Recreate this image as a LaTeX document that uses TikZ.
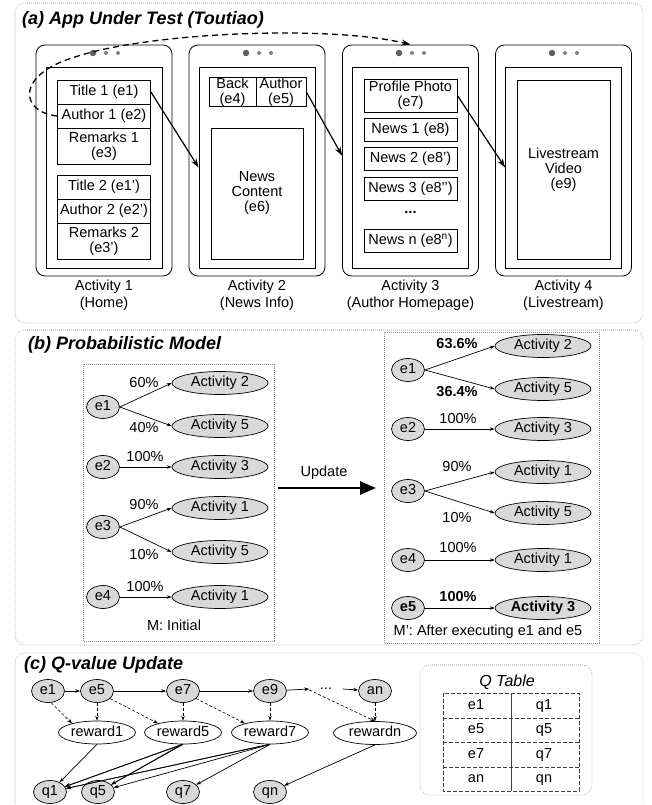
\documentclass[tikz,border=0pt]{standalone}
\usepackage{fontspec}
\setmainfont{Liberation Sans}
\usetikzlibrary{shapes.geometric,arrows.meta}
\definecolor{actgray}{RGB}{217,217,217}
\definecolor{framegray}{RGB}{140,140,140}
\definecolor{camgray}{RGB}{95,95,95}
\newcommand{\bodyfont}{\fontsize{14.5}{16.5}\selectfont}
\tikzset{every picture/.style={x=1pt,y=-1pt}}
\tikzset{every node/.style={font=\bodyfont,text=black}}
\tikzset{panel/.style={draw=framegray,line width=.6pt,dash pattern=on .6pt off 1.4pt,rounded corners=10pt}}
\tikzset{subpanel/.style={draw=framegray,line width=.6pt,dash pattern=on .6pt off 1.4pt}}
\tikzset{heading/.style={font=\fontsize{18}{20}\selectfont\bfseries\itshape,anchor=west,inner sep=0pt}}
\tikzset{phone/.style={draw,line width=.8pt,rounded corners=9pt,minimum width=136pt,minimum height=231pt,inner sep=0pt}}
\tikzset{screen/.style={draw,line width=.8pt,minimum width=116pt,minimum height=201pt,inner sep=0pt}}
\tikzset{cam/.style={circle,fill=camgray,inner sep=0pt,minimum size=6.5pt}}
\tikzset{camdot/.style={circle,fill=gray,inner sep=0pt,minimum size=4pt}}
\tikzset{widget/.style={draw,line width=.8pt,minimum width=93pt,inner sep=0pt,align=center,font=\fontsize{14.5}{15}\selectfont}}
\tikzset{ev/.style={ellipse,draw,line width=.7pt,fill=actgray,minimum width=33pt,minimum height=23pt,inner sep=0pt,text height=10.5pt,text depth=3pt}}
\tikzset{act/.style={ellipse,draw,line width=.7pt,fill=actgray,minimum width=96pt,minimum height=23pt,inner sep=0pt,text height=10.5pt,text depth=3pt}}
\tikzset{rew/.style={ellipse,draw,line width=.7pt,minimum width=77pt,minimum height=23pt,inner sep=0pt,text height=10.5pt,text depth=3pt}}
\tikzset{nav/.style={-{Stealth[length=9pt,width=6pt]},line width=1.2pt}}
\tikzset{backnav/.style={-{Stealth[length=9pt,width=6pt]},line width=1.3pt,dash pattern=on 6pt off 4pt}}
\tikzset{trans/.style={-{Stealth[length=5pt,width=3.5pt]},line width=.7pt}}
\tikzset{hop/.style={-{Stealth[length=5pt,width=3.5pt]},line width=.6pt,dash pattern=on 3pt off 2pt}}
\tikzset{annot/.style={inner sep=0pt}}
\tikzset{cell/.style={inner sep=0pt,text height=10.5pt,text depth=3pt}}
\tikzset{update/.style={-{Triangle[length=16pt,width=13pt]},line width=2.6pt}}
\tikzset{qline/.style={line width=.8pt,draw=darkgray,dash pattern=on 4pt off 2pt}}

\begin{document}
\begin{tikzpicture}
\useasboundingbox (0,0) rectangle (652,805);

\draw [panel] (15,3) rectangle (643,323);
\node [heading] (tta) at (22,20) {(a) App Under Test (Toutiao)};

\node [phone] (ph1) at (104,160.5) {};
\node [screen] (scr1) at (104,167.5) {};
\node [cam] (cam1) at (93,53) {};
\node [camdot] (dta1) at (106,53) {};
\node [camdot] (dtb1) at (118,53) {};
\node [phone] (ph2) at (257,160.5) {};
\node [screen] (scr2) at (257,167.5) {};
\node [cam] (cam2) at (246,53) {};
\node [camdot] (dta2) at (259,53) {};
\node [camdot] (dtb2) at (271,53) {};
\node [phone] (ph3) at (410.5,160.5) {};
\node [screen] (scr3) at (410.5,167.5) {};
\node [cam] (cam3) at (399,53) {};
\node [camdot] (dta3) at (412,53) {};
\node [camdot] (dtb3) at (424,53) {};
\node [phone] (ph4) at (563.5,160.5) {};
\node [screen] (scr4) at (563.5,167.5) {};
\node [cam] (cam4) at (552,53) {};
\node [camdot] (dta4) at (565,53) {};
\node [camdot] (dtb4) at (577,53) {};

\node [widget,minimum height=24pt] (wta) at (104,92) {Title 1 (e1)};
\node [widget,minimum height=24pt] (wau) at (104,116) {Author 1 (e2)};
\node [widget,minimum height=36pt] (wre) at (104,146) {Remarks 1\\(e3)};
\node [widget,minimum height=24pt] (wtb) at (104,187) {Title 2 (e1’)};
\node [widget,minimum height=24pt] (wav) at (104,211) {Author 2 (e2’)};
\node [widget,minimum height=36pt] (wrf) at (104,241) {Remarks 2\\(e3’)};

\node [widget,minimum width=47pt,minimum height=26pt] (wback) at (232.5,92) {Back\\(e4)};
\node [widget,minimum width=50pt,minimum height=26pt] (wauth) at (281,92) {Author\\(e5)};
\node [widget,minimum width=92pt,minimum height=131pt] (wnews) at (257,193.5) {News\\Content\\(e6)};

\node [widget,minimum height=33pt] (wprof) at (410.5,95.5) {Profile Photo\\(e7)};
\node [widget,minimum height=23pt] (wna) at (410.5,129.5) {News 1 (e8)};
\node [widget,minimum height=23pt] (wnb) at (410.5,159) {News 2 (e8’)};
\node [widget,minimum height=23pt] (wnc) at (410.5,188.5) {News 3 (e8’’)};
\node [annot,font=\bfseries\bodyfont] (wdots) at (410.5,212) {...};
\node [widget,minimum height=23pt] (wnn) at (410.5,241) {News n (e8\textsuperscript{n})};

\node [widget,minimum height=179pt] (wlive) at (563.5,169.5) {Livestream\\Video\\(e9)};

\node [align=center] (lbl1) at (104,295) {Activity 1\\(Home)};
\node [align=center] (lbl2) at (257,295) {Activity 2\\(News Info)};
\node [align=center] (lbl3) at (410.5,295) {Activity 3\\(Author Homepage)};
\node [align=center] (lbl4) at (563.5,295) {Activity 4\\(Livestream)};

\draw [nav] (wta.east) -- (scr2.west);
\draw [nav] (wauth.east) -- (ph3.176);
\draw [nav] (wprof.east) -- (scr4.west);
\draw [backnav] (wau.west) .. controls (20,112) and (15,75) .. (75,57) .. controls (150,32) and (330,25) .. (ph3.north);

\draw [panel] (15,330) rectangle (643,645);
\node [heading] (ttb) at (28,345) {(b) Probabilistic Model};

\draw [subpanel] (83,364) rectangle (274,641);
\node [ev] (le1) at (103,407) {e1};
\node [act] (la2) at (220,383) {Activity 2};
\node [act] (la5) at (220,426) {Activity 5};
\node [ev] (le2) at (103,467) {e2};
\node [act] (la3) at (220,467) {Activity 3};
\node [ev] (le3) at (103,527) {e3};
\node [act] (la1) at (220,508) {Activity 1};
\node [act] (la5b) at (220,552) {Activity 5};
\node [ev] (le4) at (103,597) {e4};
\node [act] (la1b) at (220,597) {Activity 1};
\draw [trans] (le1.east) -- (la2.west);
\draw [trans] (le1.east) -- (la5.west);
\draw [trans] (le2.east) -- (la3.west);
\draw [trans] (le3.east) -- (la1.west);
\draw [trans] (le3.east) -- (la5b.west);
\draw [trans] (le4.east) -- (la1b.west);
\node [annot] (lp1) at (144,383) {60\%};
\node [annot] (lp2) at (144,428) {40\%};
\node [annot] (lp3) at (145,457) {100\%};
\node [annot] (lp4) at (144,505) {90\%};
\node [annot] (lp5) at (144,555) {10\%};
\node [annot] (lp6) at (145,587) {100\%};
\node [annot] (lcap) at (174,625) {M: Initial};

\coordinate (upa) at (278,488);
\coordinate (upb) at (376,488);
\draw [update] (upa) -- (upb);
\node [annot] (uplbl) at (324,473) {Update};

\draw [subpanel] (384,332) rectangle (599,643);
\node [ev] (re1) at (408,370) {e1};
\node [act] (ra2) at (543,346) {Activity 2};
\node [act] (ra5) at (543,389) {Activity 5};
\node [ev] (re2) at (408,429) {e2};
\node [act] (ra3) at (543,429) {Activity 3};
\node [ev] (re3) at (408,491) {e3};
\node [act] (ra1) at (543,472) {Activity 1};
\node [act] (ra5b) at (543,513) {Activity 5};
\node [ev] (re4) at (408,560) {e4};
\node [act] (ra1b) at (543,560) {Activity 1};
\node [ev,font=\bfseries\bodyfont] (re5) at (408,608) {e5};
\node [act,font=\bfseries\bodyfont] (ra3b) at (543,608) {Activity 3};
\draw [trans] (re1.east) -- (ra2.west);
\draw [trans] (re1.east) -- (ra5.west);
\draw [trans] (re2.east) -- (ra3.west);
\draw [trans] (re3.east) -- (ra1.west);
\draw [trans] (re3.east) -- (ra5b.west);
\draw [trans] (re4.east) -- (ra1b.west);
\draw [trans] (re5.east) -- (ra3b.west);
\node [annot,font=\bfseries\bodyfont] (rp1) at (457,344) {63.6\%};
\node [annot,font=\bfseries\bodyfont] (rp2) at (457,392) {36.4\%};
\node [annot] (rp3) at (458,419) {100\%};
\node [annot] (rp4) at (457,467) {90\%};
\node [annot] (rp5) at (457,518) {10\%};
\node [annot] (rp6) at (458,548) {100\%};
\node [annot,font=\bfseries\bodyfont] (rp7) at (458,597) {100\%};
\node [annot] (rcap) at (488,632) {M’: After executing e1 and e5};

\draw [panel] (15,812) -- (15,653) -- (643,653) -- (643,812);
\node [heading] (ttc) at (24,665) {(c) Q-value Update};

\node [ev] (ce1) at (48,691) {e1};
\node [ev] (ce5) at (97,691) {e5};
\node [ev] (ce7) at (183,691) {e7};
\node [ev] (ce9) at (270,691) {e9};
\node [annot,minimum width=33pt] (cdots) at (326,689) {...};
\node [ev] (can) at (375,691) {an};
\node [rew] (rw1) at (97,732.5) {reward1};
\node [rew] (rw5) at (183,732.5) {reward5};
\node [rew] (rw7) at (270,732.5) {reward7};
\node [rew,minimum width=83pt] (rwn) at (375,733) {rewardn};
\node [ev] (cq1) at (50,792) {q1};
\node [ev] (cq5) at (98,792) {q5};
\node [ev] (cq7) at (183,792) {q7};
\node [ev] (cqn) at (270,792) {qn};

\draw [trans] (ce1) -- (ce5);
\draw [trans] (ce5) -- (ce7);
\draw [trans] (ce7) -- (ce9);
\draw [trans] (ce9) -- (cdots.west);
\draw [trans] (cdots.east) -- (can);
\draw [hop] (ce1.-75) -- (rw1.160);
\draw [hop] (ce5) -- (rw1);
\draw [hop] (ce5.-30) -- (rw5.160);
\draw [hop] (ce7) -- (rw5);
\draw [hop] (ce7.-30) -- (rw7.160);
\draw [hop] (ce9) -- (rw7);
\draw [hop] (cdots.south west) -- (rwn.north);
\draw [hop] (can) -- (rwn);

\draw [trans] (rw1.south) -- (cq1);
\draw [trans] (rw5.south) -- (cq1);
\draw [trans] (rw5.-95) -- (cq1);
\draw [trans] (rw5.south) -- (cq5);
\draw [trans] (rw5.-95) -- (cq5);
\draw [trans] (rw7.south) -- (cq1);
\draw [trans] (rw7.-95) -- (cq1);
\draw [trans] (rw7.south) -- (cq5);
\draw [trans] (rw7.south) -- (cq7);
\draw [trans] (rwn.south) -- (cqn);

\draw [panel] (420,665) rectangle (592,795);
\node [annot,font=\fontsize{16}{18}\selectfont\itshape] (qtl) at (507,682) {Q Table};
\draw [qline] (443,693) rectangle (579,791);
\draw [qline] (443,718) -- (579,718);
\draw [qline] (443,742) -- (579,742);
\draw [qline] (443,767) -- (579,767);
\draw [line width=.8pt,draw=darkgray] (511,693) -- (511,791);
\node [cell] (qk1) at (476,705.5) {e1};
\node [cell] (qv1) at (544,705.5) {q1};
\node [cell] (qk2) at (476,730) {e5};
\node [cell] (qv2) at (544,730) {q5};
\node [cell] (qk3) at (476,754.5) {e7};
\node [cell] (qv3) at (544,754.5) {q7};
\node [cell] (qk4) at (476,779) {an};
\node [cell] (qv4) at (544,779) {qn};
\end{tikzpicture}
\end{document}
